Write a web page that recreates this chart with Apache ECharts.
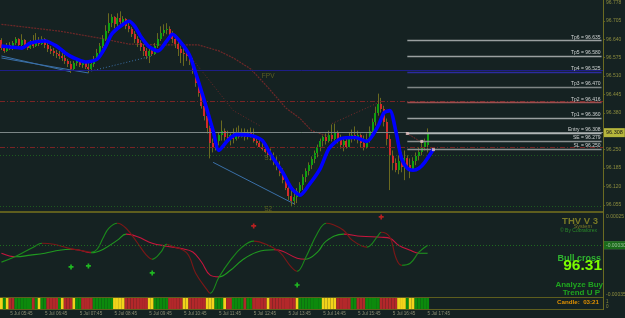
<!DOCTYPE html>
<html><head><meta charset="utf-8">
<script src="https://cdn.jsdelivr.net/npm/echarts@6/dist/echarts.min.js"></script>
<style>html,body{margin:0;padding:0;background:#152222;}#c{width:625px;height:318px;}</style>
</head><body><div id="c"></div>
<script>
const NCAT = 208;
// [open, close, low, high] per M5 bar
const ohlc = [
[96.637,96.609,96.602,96.644],[96.609,96.599,96.592,96.620],[96.599,96.620,96.595,96.627],[96.620,96.606,96.602,96.630],
[96.606,96.627,96.602,96.634],[96.627,96.641,96.620,96.648],[96.641,96.620,96.613,96.644],[96.620,96.637,96.616,96.658],
[96.637,96.616,96.613,96.641],[96.616,96.609,96.602,96.627],[96.609,96.630,96.606,96.637],[96.630,96.616,96.609,96.655],
[96.616,96.634,96.613,96.662],[96.634,96.623,96.616,96.648],[96.623,96.641,96.620,96.651],[96.641,96.620,96.609,96.644],
[96.620,96.606,96.595,96.627],[96.606,96.599,96.588,96.616],[96.599,96.592,96.581,96.609],[96.592,96.588,96.574,96.602],
[96.588,96.581,96.570,96.599],[96.581,96.574,96.563,96.592],[96.574,96.563,96.553,96.585],[96.563,96.553,96.542,96.570],
[96.553,96.535,96.521,96.563],[96.535,96.556,96.532,96.563],[96.556,96.567,96.546,96.574],[96.567,96.549,96.542,96.570],
[96.549,96.560,96.539,96.567],[96.560,96.542,96.535,96.563],[96.542,96.535,96.521,96.556],[96.535,96.553,96.528,96.563],
[96.553,96.570,96.542,96.581],[96.570,96.592,96.563,96.606],[96.592,96.616,96.585,96.627],[96.616,96.641,96.609,96.655],
[96.641,96.669,96.634,96.690],[96.669,96.697,96.662,96.732],[96.697,96.718,96.683,96.729],[96.718,96.693,96.679,96.722],
[96.693,96.715,96.686,96.732],[96.715,96.701,96.693,96.739],[96.701,96.711,96.686,96.722],[96.711,96.686,96.676,96.715],
[96.686,96.676,96.665,96.701],[96.676,96.658,96.648,96.683],[96.658,96.641,96.627,96.669],[96.641,96.627,96.613,96.651],
[96.627,96.613,96.599,96.637],[96.613,96.599,96.581,96.623],[96.599,96.581,96.570,96.609],[96.581,96.599,96.556,96.609],
[96.599,96.588,96.581,96.613],[96.588,96.616,96.585,96.627],[96.616,96.641,96.609,96.662],[96.641,96.662,96.634,96.686],
[96.662,96.672,96.651,96.693],[96.672,96.676,96.658,96.697],[96.676,96.658,96.648,96.686],[96.658,96.641,96.627,96.669],
[96.641,96.623,96.609,96.648],[96.623,96.606,96.581,96.634],[96.606,96.592,96.556,96.616],[96.592,96.588,96.546,96.609],
[96.588,96.581,96.563,96.602],[96.581,96.563,96.549,96.592],[96.563,96.528,96.518,96.574],[96.528,96.486,96.472,96.539],
[96.486,96.451,96.437,96.500],[96.451,96.405,96.395,96.465],[96.405,96.370,96.353,96.423],[96.370,96.325,96.307,96.388],
[96.325,96.272,96.219,96.335],[96.272,96.254,96.240,96.289],[96.254,96.279,96.247,96.286],[96.279,96.300,96.265,96.310],
[96.300,96.317,96.282,96.353],[96.317,96.296,96.282,96.325],[96.296,96.282,96.275,96.317],[96.282,96.300,96.265,96.307],
[96.300,96.289,96.272,96.325],[96.289,96.310,96.282,96.328],[96.310,96.296,96.289,96.335],[96.296,96.314,96.293,96.325],
[96.314,96.296,96.282,96.325],[96.296,96.310,96.286,96.321],[96.310,96.300,96.293,96.328],[96.300,96.282,96.275,96.325],
[96.282,96.272,96.265,96.296],[96.272,96.261,96.258,96.289],[96.261,96.251,96.247,96.275],[96.251,96.240,96.237,96.268],
[96.240,96.230,96.223,96.261],[96.230,96.219,96.212,96.254],[96.219,96.205,96.195,96.240],[96.205,96.191,96.177,96.226],
[96.191,96.166,96.156,96.209],[96.166,96.142,96.131,96.184],[96.142,96.114,96.107,96.159],[96.114,96.086,96.072,96.135],
[96.086,96.068,96.051,96.107],[96.068,96.082,96.054,96.096],[96.082,96.103,96.061,96.114],[96.103,96.124,96.086,96.135],
[96.124,96.152,96.107,96.163],[96.152,96.173,96.135,96.184],[96.173,96.195,96.159,96.205],[96.195,96.216,96.181,96.226],
[96.216,96.237,96.202,96.247],[96.237,96.258,96.223,96.268],[96.258,96.279,96.244,96.289],[96.279,96.293,96.261,96.300],
[96.293,96.282,96.268,96.307],[96.282,96.303,96.275,96.317],[96.303,96.289,96.279,96.339],[96.289,96.310,96.282,96.342],
[96.310,96.286,96.272,96.317],[96.286,96.268,96.254,96.303],[96.268,96.279,96.244,96.289],[96.279,96.261,96.254,96.296],
[96.261,96.289,96.258,96.310],[96.289,96.303,96.275,96.321],[96.303,96.286,96.282,96.332],[96.286,96.300,96.272,96.317],
[96.300,96.275,96.258,96.307],[96.275,96.261,96.247,96.300],[96.261,96.289,96.254,96.307],[96.289,96.317,96.275,96.332],
[96.317,96.346,96.303,96.360],[96.346,96.381,96.335,96.402],[96.381,96.412,96.370,96.448],[96.412,96.395,96.381,96.433],
[96.395,96.346,96.332,96.405],[96.346,96.289,96.265,96.360],[96.289,96.230,96.107,96.303],[96.230,96.202,96.177,96.247],
[96.202,96.177,96.170,96.219],[96.177,96.209,96.163,96.230],[96.209,96.188,96.170,96.240],[96.188,96.219,96.142,96.247],
[96.219,96.195,96.177,96.230],[96.195,96.181,96.149,96.219],[96.181,96.209,96.177,96.223],[96.209,96.226,96.195,96.240],
[96.226,96.240,96.212,96.258],[96.240,96.258,96.230,96.275],[96.258,96.279,96.247,96.289],[96.265,96.308,96.240,96.325]
];
const blueBand = [[0,96.616],[3,96.613],[7,96.609],[10,96.627],[15,96.634],[19,96.616],[22,96.592],[25,96.574],[29,96.560],[33,96.570],[36,96.616],[38,96.658],[41,96.686],[44,96.704],[46,96.686],[48,96.651],[51,96.613],[54,96.599],[57,96.634],[59,96.658],[62,96.627],[65,96.581],[67,96.521],[70,96.423],[73,96.317],[75,96.247],[78,96.282],[81,96.303],[86,96.300],[90,96.282],[93,96.230],[97,96.170],[100,96.114],[103,96.089],[106,96.124],[110,96.184],[113,96.254],[117,96.289],[122,96.293],[126,96.279],[130,96.335],[132,96.381],[134,96.388],[136,96.317],[138,96.219],[140,96.184],[142,96.177],[144,96.184],[146,96.205],[149,96.251]];
const arcA = [[0,96.693],[20,96.669],[34,96.644],[44,96.623],[58,96.620],[68,96.620],[75,96.599],[80,96.574],[86,96.535],[92,96.469],[98,96.398],[103,96.360],[107,96.317],[113,96.296]];
const lineB = [[65,96.581],[80,96.388],[89,96.335]];
const lineC = [[114,96.342],[130,96.416]];
const lineD = [[140,96.307],[145,96.275]];
const tl1 = [[0,96.581],[24,96.525]];
const tl2 = [[0,96.574],[30,96.521]];
const tl3 = [[31,96.528],[52,96.581]];
const tl4 = [[73,96.205],[101,96.058]];
const tradeMarks = [[140,96.307],[145,96.279],[149,96.250]];
const pivotNames = ['FPV','S1','S2'];
const pivotPts = [[92,96.508],[92,96.220],[92,96.040]];
const priceTicks = [96.055,96.120,96.185,96.250,96.380,96.445,96.510,96.575,96.640,96.705];
const tpNames = ['Tp6','Tp5','Tp4','Tp3','Tp2','Tp1','Entry','SE','SL'];
const tpValues = [96.635,96.580,96.525,96.470,96.416,96.360,96.308,96.279,96.250];
const levelValues = [96.525,96.416,96.313,96.308,96.257,96.229,96.048];
const bidPrice = 96.308;
const fastOsc = [[0,-0.000121],[5,-0.000079],[11,-0.000014],[14,0.000014],[18,0.000007],[23,-0.000021],[27,-0.000036],[31,-0.000050],[33,-0.000029],[35,0.000050],[37,0.000121],[40,0.000157],[43,0.000121],[47,0.000014],[50,-0.000071],[52,-0.000100],[55,-0.000050],[57,0.000007],[59,-0.000007],[64,-0.000057],[67,-0.000200],[71,-0.000321],[72,-0.000343],[75,-0.000229],[79,-0.000107],[83,-0.000014],[87,0.000029],[92,0],[96,-0.000050],[100,-0.000157],[102,-0.000186],[105,-0.000086],[109,0.000086],[112,0.000157],[114,0.000150],[118,0.000107],[121,0.000036],[126,-0.000014],[130,0.000071],[131,0.000093],[134,0.000057],[136,-0.000086],[138,-0.000143],[141,-0.000129],[144,-0.000050],[147,0]];
const slowOsc = [[0,-0.000057],[5,-0.000083],[10,-0.000071],[15,-0.000057],[20,-0.000036],[24,-0.000029],[27,-0.000036],[31,-0.000054],[35,-0.000030],[40,0.000036],[43,0.000079],[47,0.000060],[52,0.000014],[57,-0.000007],[62,-0.000024],[66,-0.000048],[69,-0.000120],[72,-0.000214],[75,-0.000226],[79,-0.000179],[83,-0.000107],[88,-0.000050],[94,-0.000033],[97,-0.000043],[102,-0.000093],[105,-0.000100],[109,-0.000050],[112,0.000029],[118,0.000079],[124,0.000064],[131,0.000057],[134,0.000050],[137,0],[141,-0.000036],[144,-0.000057],[147,-0.000057]];
const buyMarks = [[24,-0.000155],[30,-0.000148],[52,-0.000198],[102,-0.000284]];
const sellMarks = [[87,0.000138],[131,0.000202]];
const oscLevels = [0, -0.000296];
const oscLevelLabels = ['0.00000','-0.00030'];
const signalRuns = ['Y','G','Y','RR','GGGGGG','R','G','Y','GG','RRRR','G','Y','RRR','Y','GG','RRRR','GGGGGGG','YYYY','RRRRRRRR','YY','GGGGG','RRRRR','YY','RRRRRR','YYY','GGG','Y','RR','GGGG','R','GG','RRRRR','Y','RRRRRRRRR','Y','GGGGGGGG','YYYYY','RRRRR','GG','RRR','GGGGG','RRRRRR','YYY','G','YY','GGGGG'];
const timeIdx = [3,15,27,39,51,63,75,87,99,111,123,135,147];
const timeLabels = ['5 Jul 05:45','5 Jul 06:45','5 Jul 07:45','5 Jul 08:45','5 Jul 09:45','5 Jul 10:45','5 Jul 11:45','5 Jul 12:45','5 Jul 13:45','5 Jul 14:45','5 Jul 15:45','5 Jul 16:45','5 Jul 17:45'];

// ---------- styles ----------
const FONT = 'Liberation Sans, Arial, sans-serif';
const OLIVE = '#5e5e1e';
const AXTXT = '#8c8c3e';
const WICK = '#6a6a20';
const UP = '#10a010';
const DOWN = '#d02a2a';
const DASHDOT = [5,2,1,2];
const tpColors = ['#9aa0a0','#9aa0a0','#2c2ca0','#7f8686','#9a5050','#9aa0a0','#b0b5b5','#8a9090','#8a9090'];
const levelColors = ['#1e1e88','#7a2424','#2a7a2a','#7c8686','#7a2424','#1e5a1e','#1e5a1e'];
const levelTypes = ['solid',DASHDOT,DASHDOT,'solid',DASHDOT,[1,2],[1,2]];
const SIG_COL = {R:'#b3282a', G:'#0c8a0c', Y:'#f2d21a'};

const cats = Array.from({length: NCAT}, (_, i) => String(i));
const signal = signalRuns.join('').split('');

function slopePieces(pts, up, down) {
  const p = [];
  for (let k = 0; k < pts.length - 1; k++) {
    p.push({gte: pts[k][0], lt: pts[k+1][0], color: pts[k+1][1] >= pts[k][1] ? up : down});
  }
  const last = p[p.length-1]; last.lte = last.lt; delete last.lt;
  return p;
}
function segLine(data, color, type, width, z) {
  return {type:'line', xAxisIndex:0, yAxisIndex:0, data, symbol:'none', z: z||2,
    lineStyle:{color, type: type||'solid', width: width||1}, silent:true};
}

const series = [];
series.push({type:'line', xAxisIndex:0, yAxisIndex:0, data:[], z:1, silent:true,
  markLine:{symbol:['none','none'], silent:true, animation:false,
    data: levelValues.map((v,k) => ({yAxis:v,
      lineStyle:{color:levelColors[k], type:levelTypes[k], width:1},
      label: v === bidPrice ? {show:true, position:'end', distance:1, formatter:v.toFixed(3),
        backgroundColor:'#b6b63c', color:'#151515', fontSize:5.5, fontFamily:FONT, padding:[2,2,1,2]} : {show:false}}))}});
series.push(segLine(arcA, '#6e2828', [2,1], 1.2));
series.push(segLine(lineB, '#6e2828', [1,2], 1));
series.push(segLine(lineC, '#7e2a2a', [1,2], 1));
series.push(segLine(lineD, '#9a3030', [1,1], 1));
series.push(segLine(tl1, '#3a70a8', 'solid', 1));
series.push(segLine(tl2, '#3a70a8', 'solid', 1));
series.push(segLine(tl3, '#3a70a8', [1,2], 1));
series.push(segLine(tl4, '#3a70a8', 'solid', 1));
// wicks (olive)
series.push({type:'candlestick', xAxisIndex:0, yAxisIndex:0, data:ohlc, barWidth:1, z:3, silent:true,
  itemStyle:{color:WICK, color0:WICK, borderColor:WICK, borderColor0:WICK, borderWidth:1}});
// coloured bodies
series.push({type:'custom', xAxisIndex:0, yAxisIndex:0, z:4, silent:true,
  data: ohlc.map((d, i) => [i, d[0], d[1]]),
  renderItem: (params, api) => {
    const i = api.value(0), o = api.value(1), c = api.value(2);
    const top = api.coord([i, Math.max(o, c)]);
    const bot = api.coord([i, Math.min(o, c)]);
    const x = Math.round(top[0] - 1);
    const y = Math.round(top[1]);
    return {type:'rect', shape:{x, y, width: 2, height: Math.max(1, Math.round(bot[1]) - y)},
      style:{fill: c >= o ? UP : DOWN}};
  }});
series.push({type:'line', xAxisIndex:0, yAxisIndex:0, data:blueBand, symbol:'none', smooth:0.25, z:5, silent:true,
  lineStyle:{color:'#0000ff', width:3.6}});
series.push({type:'line', xAxisIndex:0, yAxisIndex:0, data:[], z:6, silent:true,
  markLine:{symbol:['none','none'], silent:true, animation:false,
    data: tpValues.map((v,k) => [
      {coord:[140, v], lineStyle:{color:tpColors[k], width:1.4, type:'solid'},
       label:{show:true, position:'insideEndTop', distance:1, formatter: tpNames[k] + ' = ' + v.toFixed(3),
         color:'#d0d4d4', fontSize:5, fontFamily:FONT}},
      {coord:[NCAT-1, v]}])}});
series.push({type:'scatter', xAxisIndex:0, yAxisIndex:0, data:tradeMarks, symbol:'rect', symbolSize:3, z:7, silent:true,
  itemStyle:{color:'#e8c4c4'}});
series.push({type:'scatter', xAxisIndex:0, yAxisIndex:0, data:pivotPts, symbolSize:0, z:7, silent:true,
  label:{show:true, position:'inside', formatter: p => pivotNames[p.dataIndex], color:'#6e6e22', fontSize:6.5, fontFamily:FONT}});
const slowIdx = series.length;
series.push({type:'line', xAxisIndex:1, yAxisIndex:1, data:slowOsc, symbol:'none', smooth:0.4, z:3, silent:true,
  lineStyle:{width:1.1},
  markLine:{symbol:['none','none'], silent:true, animation:false,
    data: oscLevels.map((v,k) => ({yAxis:v,
      lineStyle:{color: k===0 ? '#5c5c5c' : '#1f6a1f', type:[1,2], width:1},
      label:{show:true, position:'end', distance:1, formatter: oscLevelLabels[k],
        backgroundColor: k===0 ? '#8a8a8a' : '#1a6a1a', color: k===0 ? '#2a2a2a' : '#9ac09a',
        fontSize:5, fontFamily:FONT, padding:[2,2,1,2]}}))}});
const fastIdx = series.length;
series.push({type:'line', xAxisIndex:1, yAxisIndex:1, data:fastOsc, symbol:'none', smooth:0.4, z:4, silent:true,
  lineStyle:{width:1.1}});
const PLUS = 'path://M2,0H4V2H6V4H4V6H2V4H0V2H2Z';
series.push({type:'scatter', xAxisIndex:1, yAxisIndex:1, data:buyMarks, symbol:PLUS, symbolSize:5, z:5, silent:true,
  itemStyle:{color:'#22dd22'}});
series.push({type:'scatter', xAxisIndex:1, yAxisIndex:1, data:sellMarks, symbol:PLUS, symbolSize:5, z:5, silent:true,
  itemStyle:{color:'#e02020'}});
series.push({type:'bar', xAxisIndex:2, yAxisIndex:2, barCategoryGap:'0%', silent:true,
  data: signal.map(s => ({value:1, itemStyle:{color:SIG_COL[s]}}))});

const xAxes = [0,1,2].map(g => ({type:'category', gridIndex:g, data:cats, boundaryGap:true,
  axisLine:{show:false}, axisTick:{show:false}, axisLabel:{show:false}, splitLine:{show:false}}));
xAxes[2].axisLabel = {show:true, interval: (i) => timeIdx.indexOf(i) >= 0,
  formatter: (v) => timeLabels[timeIdx.indexOf(Number(v))] || '',
  color:'#8e8e74', fontSize:4.6, fontFamily:FONT, align:'left', margin:2};

const txt = (text, x, y, fill, font, align) => ({type:'text', silent:true, z:50,
  style:{text, x, y, fill, font: font + ' ' + FONT, textAlign: align||'right', textVerticalAlign:'middle', align: align||'right', verticalAlign:'middle'}});

const option = {
  backgroundColor:'#152222',
  animation:false,
  grid:[{left:0, right:22, top:0, height:211},{left:0, right:22, top:213, height:84},{left:0, right:22, top:298, height:11}],
  xAxis: xAxes,
  yAxis:[
    {type:'value', gridIndex:0, position:'right', min:96.033, max:96.779, scale:true,
      axisLine:{show:false}, splitLine:{show:false},
      axisTick:{show:true, customValues:priceTicks, length:2, lineStyle:{color:OLIVE}},
      axisLabel:{customValues:priceTicks, formatter: v => v.toFixed(3), color:AXTXT, fontSize:5, fontFamily:FONT, margin:3}},
    {type:'value', gridIndex:1, position:'right', min:-0.00037, max:0.00023,
      axisLine:{show:false}, splitLine:{show:false}, axisTick:{show:false}, axisLabel:{show:false}},
    {type:'value', gridIndex:2, position:'right', min:0, max:1,
      axisLine:{show:false}, splitLine:{show:false}, axisTick:{show:false}, axisLabel:{show:false}}
  ],
  visualMap:[
    {type:'piecewise', show:false, dimension:0, seriesIndex:slowIdx, pieces: slopePieces(slowOsc, '#1f9a1f', '#c8143c'), outOfRange:{color:'#888'}},
    {type:'piecewise', show:false, dimension:0, seriesIndex:fastIdx, pieces: slopePieces(fastOsc, '#1a8a1a', '#7c1616'), outOfRange:{color:'#888'}}
  ],
  series,
  graphic:[
    {type:'rect', silent:true, z:40, shape:{x:0, y:211, width:603, height:2}, style:{fill:OLIVE}},
    {type:'rect', silent:true, z:40, shape:{x:0, y:297, width:603, height:1}, style:{fill:OLIVE}},
    {type:'rect', silent:true, z:40, shape:{x:0, y:309, width:603, height:1}, style:{fill:OLIVE}},
    {type:'rect', silent:true, z:40, shape:{x:603, y:0, width:1, height:310}, style:{fill:'#6b6b22'}},
    txt('96.778', 606, 3, AXTXT, '5px', 'left'),
    txt('0.00025', 606, 217, AXTXT, '5px', 'left'),
    txt('-0.00035', 606, 295, AXTXT, '5px', 'left'),
    txt('1', 606, 301.5, AXTXT, '4.5px', 'left'),
    txt('0', 606, 306.5, AXTXT, '4.5px', 'left'),
    txt('THV V 3', 598, 221, '#7a7a26', 'bold 9.5px'),
    txt('System', 592, 226, '#7a7a26', '5.5px'),
    txt('\u00A9 By Cobraforex', 597, 231, '#2a8a2a', '5px'),
    txt('Bull cross', 601, 258.5, '#2fb52f', 'bold 9px'),
    txt('96.31', 602, 266, '#7cfc00', 'bold 15.5px'),
    txt('Analyze Buy', 603, 284.5, '#1fa51f', 'bold 8px'),
    txt('Trend U P', 600, 292.5, '#1fa51f', 'bold 8px'),
    txt('Candle:  03:21', 599, 302.7, '#e09000', 'bold 6.2px')
  ]
};
const chart = echarts.init(document.getElementById('c'), null, {renderer:'canvas'});
chart.setOption(option);
</script>
</body></html>
